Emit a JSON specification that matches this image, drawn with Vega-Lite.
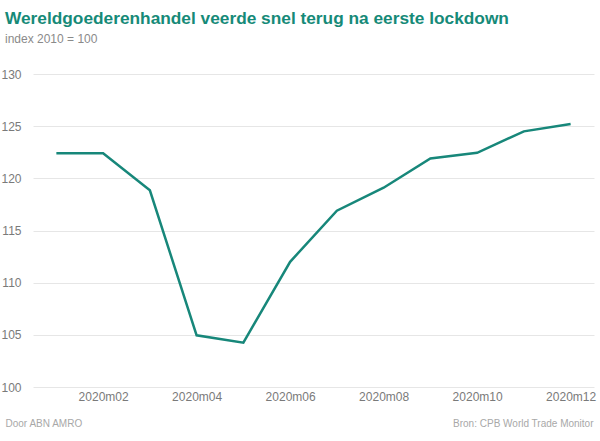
{
  "$schema": "https://vega.github.io/schema/vega-lite/v6.json",
  "width": 561,
  "height": 313,
  "autosize": {"type": "none"},
  "padding": {"left": 33, "top": 74, "right": 6, "bottom": 54},
  "background": "#ffffff",
  "config": {
    "font": "Liberation Sans",
    "view": {"stroke": null}
  },
  "title": {
    "text": "Wereldgoederenhandel veerde snel terug na eerste lockdown",
    "subtitle": "index 2010 = 100",
    "anchor": "start",
    "frame": "group",
    "dx": -28,
    "offset": 23,
    "font": "Liberation Sans",
    "fontSize": 17.3,
    "fontWeight": "bold",
    "color": "#168a78",
    "subtitleFont": "Liberation Sans",
    "subtitleFontSize": 12,
    "subtitleColor": "#8a8a8a",
    "subtitlePadding": 7
  },
  "data": {
    "values": [
      {"maand": "2020m01", "index": 122.4},
      {"maand": "2020m02", "index": 122.4},
      {"maand": "2020m03", "index": 118.85},
      {"maand": "2020m04", "index": 104.95},
      {"maand": "2020m05", "index": 104.25},
      {"maand": "2020m06", "index": 112.0},
      {"maand": "2020m07", "index": 116.9},
      {"maand": "2020m08", "index": 119.1},
      {"maand": "2020m09", "index": 121.9},
      {"maand": "2020m10", "index": 122.45},
      {"maand": "2020m11", "index": 124.5},
      {"maand": "2020m12", "index": 125.2}
    ]
  },
  "mark": {"type": "line", "color": "#17877a", "strokeWidth": 2.5, "strokeJoin": "miter"},
  "encoding": {
    "x": {
      "field": "maand",
      "type": "ordinal",
      "sort": null,
      "scale": {"type": "point", "padding": 0.5},
      "axis": {
        "values": ["2020m02", "2020m04", "2020m06", "2020m08", "2020m10", "2020m12"],
        "labelAngle": 0,
        "grid": false,
        "domain": false,
        "ticks": false,
        "labelPadding": 4,
        "labelFontSize": 12,
        "labelColor": "#7a7a7a",
        "labelFont": "Liberation Sans",
        "title": "Bron: CPB World Trade Monitor",
        "titleFont": "Liberation Sans",
        "titleFontSize": 10,
        "titleFontWeight": "normal",
        "titleColor": "#a8a8a8",
        "titleAnchor": null,
        "titleAlign": "right",
        "titleBaseline": "middle",
        "titleX": 560,
        "titleY": 36
      }
    },
    "y": {
      "field": "index",
      "type": "quantitative",
      "scale": {"domain": [100, 130], "nice": false, "zero": false},
      "axis": {
        "values": [100, 105, 110, 115, 120, 125, 130],
        "grid": true,
        "gridColor": "#e6e6e6",
        "gridWidth": 1,
        "domain": false,
        "ticks": false,
        "labelPadding": 12,
        "labelFontSize": 12,
        "labelColor": "#7a7a7a",
        "labelFont": "Liberation Sans",
        "title": "Door ABN AMRO",
        "titleFont": "Liberation Sans",
        "titleFontSize": 10,
        "titleFontWeight": "normal",
        "titleColor": "#a8a8a8",
        "titleAngle": 0,
        "titleAnchor": null,
        "titleAlign": "left",
        "titleBaseline": "middle",
        "titleX": -28,
        "titleY": 349
      }
    }
  }
}
